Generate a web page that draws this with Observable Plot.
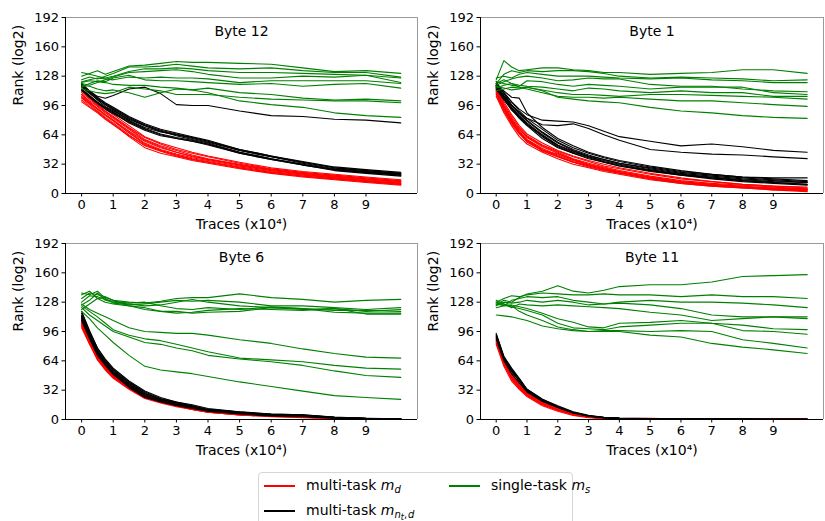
<!DOCTYPE html>
<html>
<head>
<meta charset="utf-8">
<script src="https://cdn.jsdelivr.net/npm/d3@7"></script>
<script src="https://cdn.jsdelivr.net/npm/@observablehq/plot@0.6"></script>
<style>
  body { margin: 0; background: #fff; font-family: "DejaVu Sans", sans-serif; }
  #root { position: relative; width: 825px; height: 521px; overflow: hidden; background: #fff; }
  .panel { position: absolute; }
  #legend { position: absolute; left: 258px; top: 472px; width: 313px; height: 70px;
            border: 1px solid #d6d6d6; border-radius: 4px; font-size: 14px; color: #000; background: #fff; }
  #legend .sw { position: absolute; width: 31px; height: 1.5px; }
  #legend .lt { position: absolute; white-space: nowrap; line-height: 16px; }
  #legend sub { font-size: 10px; vertical-align: -3px; line-height: 0; }
  #legend sub sub { font-size: 8px; vertical-align: -2px; }
</style>
</head>
<body>
<div id="root">
  <div id="legend">
    <div class="sw" style="left:5px;top:12px;background:#ff0000"></div>
    <div class="lt" style="left:47px;top:4px">multi-task <i>m</i><sub><i>d</i></sub></div>
    <div class="sw" style="left:5px;top:37px;background:#000"></div>
    <div class="lt" style="left:47px;top:29px">multi-task <i>m</i><sub><i>n</i><sub><i>t</i></sub>,&#8202;<i>d</i></sub></div>
    <div class="sw" style="left:190px;top:12px;background:#008000"></div>
    <div class="lt" style="left:232px;top:4px">single-task <i>m</i><sub><i>s</i></sub></div>
  </div>
</div>
<script>
// ---- data (x in units of 10^4 traces; y = rank, log2) ----
const traces = [0, 0.25, 0.5, 0.75, 1, 1.5, 2, 2.5, 3, 3.5, 4, 5, 6, 7, 8, 9, 10.1];
const xTicks = [0, 1, 2, 3, 4, 5, 6, 7, 8, 9];
const yTicks = [0, 32, 64, 96, 128, 160, 192];
const titles = ["Byte 12", "Byte 1", "Byte 6", "Byte 11"];

// Byte 12
const b12Red = [
  [104,97,90,83,77,64,52,46,41,37,34,28,23,19,16,13,10],
  [108,101,95,88,82,70,58,51,45,41,37,31,26,22,19,16,13],
  [112,104,97,90,84,72,61,54,48,44,40,33,27,23,20,17,14],
  [102,95,89,82,76,62,50,44,40,36,33,27,22,18,15,12,9],
  [110,103,96,89,83,71,59,52,47,42,38,32,26,22,19,16,13],
  [106,99,93,86,80,67,55,48,43,39,36,30,25,21,17,14,11],
  [114,106,99,92,86,74,62,55,50,45,41,34,28,24,21,18,15],
  [100,94,88,81,75,63,53,47,42,38,35,29,24,20,17,14,11],
  [108,100,92,85,79,66,54,47,42,37,34,28,23,19,16,13,10],
  [105,98,92,86,80,68,57,50,45,40,37,31,26,21,18,15,12]
];
const b12Black = [
  [118,111,104,97,92,82,74,68,64,61,57,47,40,34,28,25,22],
  [114,107,100,94,89,79,71,65,61,58,54,44,37,31,25,22,19],
  [120,112,105,99,94,84,76,70,66,62,58,48,41,35,29,26,23],
  [112,106,99,93,88,77,69,63,60,57,54,45,38,32,26,23,20],
  [116,109,103,97,91,80,72,67,64,60,56,47,40,33,27,24,21],
  [117,110,102,95,90,81,74,68,63,59,55,45,38,32,26,23,20],
  [113,105,98,92,87,78,70,64,60,57,53,44,37,31,26,23,21],
  [119,111,104,98,93,83,75,69,65,61,57,48,41,34,28,25,22],
  [118,112,106,104,107,114,116,109,97,96,96,90,85,84,81,80,77]
];
const b12Green = [
  [128,131,134,130,133,139,140,142,144,143,143,142,141,137,133,134,131],
  [124,127,125,128,131,138,138,139,141,139,137,136,137,134,132,132,127],
  [132,130,128,126,128,133,136,136,137,136,134,132,132,131,130,129,126],
  [120,118,121,124,127,132,133,134,135,133,130,126,126,128,127,129,121],
  [122,124,126,125,124,127,126,127,126,126,125,121,123,123,123,123,120],
  [116,120,123,122,126,129,124,123,123,122,121,119,120,117,119,120,115],
  [118,117,114,112,113,110,105,110,114,113,115,110,108,104,102,103,101],
  [114,112,110,109,110,116,114,112,108,108,108,105,103,102,101,101,99],
  [121,123,122,121,119,118,118,116,115,113,110,101,97,94,88,85,83]
];

// Byte 1
const b1Red = [
  [114,96,82,70,62,52,45,38,33,29,25,19,14,11,9,7,5],
  [110,92,78,66,58,48,41,35,30,26,23,17,12,9,7,5,4],
  [116,98,84,72,63,53,46,40,35,30,27,21,16,13,10,8,6],
  [106,88,74,62,54,45,38,32,28,24,21,15,11,8,6,4,3],
  [112,95,80,68,58,46,40,34,30,26,22,16,12,9,7,5,4],
  [118,100,86,74,65,55,47,41,36,32,28,22,17,13,10,8,7],
  [108,90,76,65,57,47,40,34,29,25,22,16,11,8,6,4,2],
  [113,94,80,70,61,51,44,37,32,28,24,18,13,10,8,6,5],
  [111,93,79,66,56,47,43,37,31,27,24,18,13,10,7,5,3],
  [109,92,77,67,59,49,42,36,31,27,23,17,12,9,7,6,4]
];
const b1Black = [
  [120,110,100,90,82,70,58,50,44,39,35,29,24,21,18,17,17],
  [116,104,93,84,76,63,52,45,40,35,31,25,21,18,15,13,12],
  [118,112,105,104,88,72,60,52,45,40,36,30,25,21,18,16,14],
  [114,102,92,82,74,60,50,44,38,34,30,24,20,16,13,11,9],
  [122,109,97,88,80,67,56,48,42,37,33,27,22,19,16,14,12],
  [117,105,94,85,77,64,53,46,40,36,32,26,21,17,14,12,10],
  [119,107,96,87,79,66,55,47,41,37,33,28,23,20,17,15,13],
  [115,103,91,83,75,62,51,44,39,34,30,25,20,17,14,12,10],
  [118,110,100,92,86,80,79,78,74,68,62,57,52,54,51,47,45],
  [117,106,96,88,82,75,74,76,71,64,58,48,45,43,42,40,38]
];
const b1Green = [
  [124,145,138,134,135,137,137,135,134,132,132,130,131,132,135,135,131],
  [120,130,134,132,134,133,134,134,133,131,128,126,127,126,125,123,124],
  [126,128,126,130,132,130,128,128,128,127,126,125,126,124,123,121,121],
  [118,122,125,127,128,126,123,124,126,125,125,119,117,117,114,112,111],
  [122,120,118,117,123,122,119,117,119,118,117,114,116,116,116,110,108],
  [115,118,120,118,117,116,114,112,115,114,112,110,112,110,110,106,106],
  [112,114,116,115,116,113,110,108,108,107,106,108,108,107,106,105,103],
  [120,124,120,116,114,110,106,105,105,104,105,103,101,101,99,97,95],
  [117,115,113,114,116,112,105,103,101,100,99,94,90,88,85,83,82]
];

// Byte 6
const b6Red = [
  [100,82,66,55,46,34,24,19,15,11,8,5,3.5,2.5,1,0.5,0.3],
  [104,84,67,56,47,35,25,20,16,12,9,6,4,3,1.5,0.8,0.4],
  [108,88,70,59,50,37,26,21,17,13,10,6.5,4.5,3.5,2,1,0.5],
  [102,83,65,54,45,33,23,18,14,11,8,5,3,2,1,0.5,0.2],
  [110,90,72,60,51,38,27,22,18,14,10,7,5,4,2,1,0.6],
  [106,86,68,57,48,36,25,20,16,12,9,6,4,3,1.5,0.7,0.4],
  [105,85,67,56,47,34,24,19,15,12,9,5.5,4,3,1.3,0.6,0.3],
  [107,87,69,58,49,36,26,20,16,13,9,6,4,3,1.6,0.8,0.4],
  [103,84,66,55,46,35,25,19,15,11,8,5,3.5,2.5,1.2,0.5,0.3],
  [109,89,70,58,49,37,26,21,17,13,10,6,4.5,3.5,1.8,0.9,0.5]
];
const b6Black = [
  [114,94,76,64,54,40,29,22,18,15,11,8,5.5,4.5,2.2,1.2,0.9],
  [110,90,72,60,50,36,25,20,16,13,9,6.5,4.5,3.5,1.8,0.9,0.7],
  [116,96,78,65,55,41,30,23,19,15,11,8,6,5,2.5,1.3,1],
  [108,88,70,59,49,35,24,19,15,12,9,6,4,3,1.5,0.8,0.6],
  [112,92,74,62,52,38,27,21,17,14,10,7,5,4,2,1,0.8],
  [118,97,78,66,56,42,31,24,19,16,12,8.5,6,5,2.6,1.4,1],
  [111,91,73,61,51,37,26,20,16,13,10,7,5,4,2,1,0.7],
  [113,93,75,63,53,39,28,22,18,14,10,7.5,5.5,4.5,2.3,1.1,0.9]
];
const b6Green = [
  [132,138,136,134,130,128,127,129,132,133,133,137,133,131,128,130,131],
  [138,136,140,132,127,125,126,128,130,129,130,128,124,124,122,120,122],
  [125,130,138,130,128,126,124,125,128,131,128,124,122,120,121,118,120],
  [128,135,134,131,129,127,128,124,121,120,122,120,123,121,119,119,118],
  [136,140,132,128,126,124,122,118,118,116,117,118,122,121,117,116,116],
  [120,126,132,133,130,124,120,118,116,117,119,121,120,119,121,115,115],
  [126,120,116,112,108,100,96,95,94,94,92,87,83,77,72,68,67],
  [124,118,112,105,98,92,88,86,82,78,74,67,65,63,59,56,55],
  [122,114,108,102,96,90,84,82,78,75,70,66,63,59,53,48,46],
  [118,110,100,92,84,70,58,54,52,50,47,41,36,31,26,24,22]
];

// Byte 11
const b11Red = [
  [86,63,46,36,28,18,11,6,3,1.5,1,0.7,0.5,0.4,0.3,0.3,0.3],
  [84,60,44,34,26,16,10,5,2.5,1.2,0.8,0.5,0.4,0.3,0.3,0.2,0.2],
  [88,65,48,38,30,19,12,6.5,3.2,1.8,1.1,0.8,0.6,0.5,0.4,0.3,0.3],
  [82,58,42,33,25,15,9,4.5,2,1,0.7,0.5,0.4,0.3,0.2,0.2,0.2],
  [90,66,49,39,31,20,13,7,3.5,2,1.2,0.9,0.7,0.5,0.4,0.3,0.3],
  [85,62,45,35,27,17,10,5.5,2.8,1.4,0.9,0.6,0.5,0.4,0.3,0.3,0.3],
  [87,64,47,37,29,18,11,6,3,1.6,1,1.2,0.6,0.4,0.3,0.3,0.2],
  [83,61,46,36,27,17,11,5.8,2.7,1.3,0.9,0.6,0.5,0.4,0.3,0.2,0.2]
];
const b11Black = [
  [94,68,55,44,32,21,14,8,4,2.2,1.4,1,0.7,0.5,0.4,0.3,0.3],
  [90,66,52,42,31,20,13,7,3.5,2,1.3,0.9,0.6,0.5,0.4,0.3,0.3],
  [92,67,54,44,33,22,15,8.5,4.5,2.5,1.5,1,0.7,0.5,0.4,0.3,0.3],
  [88,64,50,40,30,20,13,7,3.5,1.8,1.2,0.8,0.6,0.4,0.3,0.3,0.3],
  [93,69,56,45,33,22,14,8,4,2.2,1.4,1,0.7,0.5,0.4,0.3,0.3],
  [91,66,53,42,31,21,14,7.5,3.8,2,1.3,0.9,0.6,0.5,0.4,0.3,0.3]
];
const b11Green = [
  [125,130,128,133,137,140,146,140,138,141,145,147,147,150,156,157,158],
  [128,132,135,134,136,138,137,136,136,137,136,136,134,136,134,134,132],
  [126,124,130,132,134,133,134,130,128,126,128,130,128,128,127,125,122],
  [124,128,127,128,130,128,130,128,125,126,127,125,121,114,112,112,110],
  [130,126,122,126,125,124,125,124,123,122,121,117,114,108,110,112,112],
  [122,124,125,123,121,116,110,106,101,100,105,106,108,105,103,99,98],
  [127,125,123,121,119,114,105,100,99,98,101,103,105,105,97,96,93],
  [128,126,124,118,114,108,101,98,96,97,97,96,97,96,87,83,78],
  [114,113,112,110,108,102,99,97,96,96,96,92,90,83,79,76,72]
];

// ---- layout ----
const panels = [
  {title: titles[0], red: b12Red, black: b12Black, green: b12Green, left: 0,   top: 0,   width: 420, mr: 3},
  {title: titles[1], red: b1Red,  black: b1Black,  green: b1Green,  left: 415, top: 0,   width: 410, mr: 2},
  {title: titles[2], red: b6Red,  black: b6Black,  green: b6Green,  left: 0,   top: 226, width: 420, mr: 3},
  {title: titles[3], red: b11Red, black: b11Black, green: b11Green, left: 415, top: 226, width: 410, mr: 2}
];

const xDomain = [-0.51, 10.63];

function makePanel(p) {
  const rows = [];
  [["#ff0000", p.red], ["#000000", p.black], ["#008000", p.green]].forEach(([color, group], g) => {
    group.forEach((vals, i) => vals.forEach((v, j) => rows.push({x: traces[j], y: v, color, id: g + "-" + i})));
  });
  return Plot.plot({
    width: p.width,
    height: 235,
    marginLeft: 65,
    marginRight: p.mr,
    marginTop: 17,
    marginBottom: 42,
    style: {fontFamily: "DejaVu Sans", fontSize: "13px", background: "transparent", color: "black", overflow: "visible"},
    x: {domain: xDomain, ticks: xTicks, tickFormat: d => String(d), tickSize: 3.5, tickPadding: 3, label: null},
    y: {domain: [0, 192], ticks: yTicks, tickFormat: d => String(d), tickSize: 3.5, tickPadding: 3, label: null},
    color: {type: "identity"},
    marks: [
      Plot.line(rows, {x: "x", y: "y", z: "id", stroke: "color", strokeWidth: 1.1, strokeLinejoin: "round"}),
      Plot.ruleY([192], {stroke: "#9a9a9a", strokeWidth: 1}),
      Plot.ruleX([xDomain[1]], {stroke: "#9a9a9a", strokeWidth: 1}),
      Plot.ruleY([0], {stroke: "#000", strokeWidth: 1}),
      Plot.ruleX([xDomain[0]], {stroke: "#000", strokeWidth: 1}),
      Plot.text([p.title], {text: d => d, frameAnchor: "top", lineAnchor: "top", dy: 9, fontSize: 14}),
      Plot.text(["Traces (x10\u2074)"], {text: d => d, frameAnchor: "bottom", dy: 35, fontSize: 14}),
      Plot.text(["Rank (log2)"], {text: d => d, frameAnchor: "left", rotate: -90, dx: -47, fontSize: 14})
    ]
  });
}

const root = document.getElementById("root");
const legendEl = document.getElementById("legend");
// bottom row first so the top row's axis labels are never covered
[panels[2], panels[3], panels[0], panels[1]].forEach(p => {
  const wrap = document.createElement("div");
  wrap.className = "panel";
  wrap.style.left = p.left + "px";
  wrap.style.top = p.top + "px";
  wrap.appendChild(makePanel(p));
  root.insertBefore(wrap, legendEl);
});
</script>
</body>
</html>
